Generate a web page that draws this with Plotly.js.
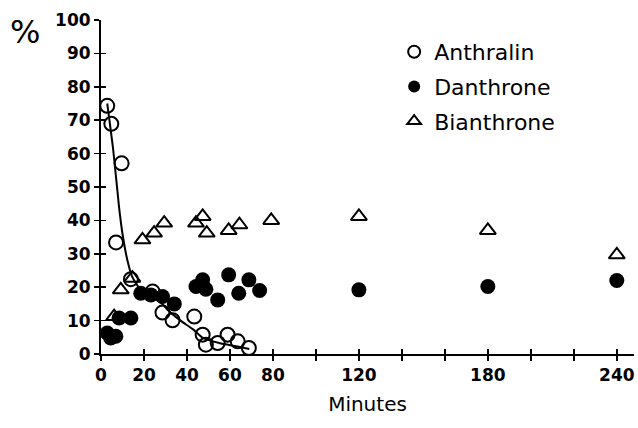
<!DOCTYPE html>
<html>
<head>
<meta charset="utf-8">
<script src="https://cdn.plot.ly/plotly-3.0.1.min.js"></script>
<style>html,body{margin:0;padding:0;background:#fff;}#chart{width:638px;height:428px;}</style>
</head>
<body>
<div id="chart"></div>
<script>
// Anthralin (open circles)
const anthralinX = [2.9, 4.8, 9.6, 7.0, 13.9, 24.0, 28.6, 33.3, 43.4, 47.3, 48.8, 54.3, 58.9, 63.6, 68.8];
const anthralinY = [74.3, 68.9, 57.1, 33.4, 22.4, 18.7, 12.4, 10.1, 11.2, 5.8, 2.8, 3.3, 5.8, 3.8, 1.8];
// Danthrone (filled circles)
const danthroneX = [2.9, 4.5, 6.9, 8.4, 13.9, 18.5, 23.2, 28.6, 34.1, 44.2, 47.3, 48.8, 54.3, 59.4, 64.1, 68.8, 73.8, 120, 180, 240];
const danthroneY = [6.3, 4.8, 5.3, 10.8, 10.8, 18.2, 17.7, 17.2, 15.0, 20.2, 22.2, 19.4, 16.2, 23.7, 18.2, 22.2, 19.0, 19.2, 20.2, 22.0];
// Bianthrone (open triangles)
const bianthroneX = [6.1, 9.2, 14.6, 19.3, 24.7, 29.4, 44.2, 47.3, 49.2, 59.4, 64.4, 79.2, 120, 180, 240];
const bianthroneY = [11.2, 19.2, 22.7, 34.2, 36.2, 39.2, 39.2, 41.2, 36.2, 37.0, 38.7, 40.0, 41.2, 37.0, 29.7];
// Fitted decay curve for anthralin
const fitX = [2.9, 5.7, 8.4, 10, 12.3, 14.6, 18.5, 24, 28, 31.7, 37, 43, 47, 55, 63, 69];
const fitY = [75, 61, 44, 36, 28, 23, 19.2, 17, 15.3, 12.8, 10, 7.3, 5.0, 3.3, 2.3, 1.5];

const xTickVals = [0, 20, 40, 60, 80, 100, 120, 140, 160, 180, 200, 220, 240];
const xTickText = ['0', '20', '40', '60', '80', '', '120', '', '', '180', '', '', '240'];
const yTickVals = [0, 10, 20, 30, 40, 50, 60, 70, 80, 90, 100];

const FONT = 'DejaVu Sans, Liberation Sans, sans-serif';

const traces = [
  {x: fitX, y: fitY, mode: 'lines', line: {color: '#000', width: 2, shape: 'spline', smoothing: 0.6}, showlegend: false, hoverinfo: 'skip'},
  {x: anthralinX, y: anthralinY, mode: 'markers', name: 'Anthralin', legendgroup: 'a',
   marker: {symbol: 'circle-open', size: 14, color: '#000', line: {width: 2, color: '#000'}}},
  {x: danthroneX, y: danthroneY, mode: 'markers', name: 'Danthrone', legendgroup: 'd',
   marker: {symbol: 'circle', size: 15, color: '#000'}},
  {x: bianthroneX, y: bianthroneY, mode: 'markers', name: 'Bianthrone', legendgroup: 'b',
   marker: {symbol: 'triangle-up-open', size: 14, color: '#000', line: {width: 2, color: '#000'}}},
  // invisible helper so the crossing-tick overlay axes are drawn
  {x: danthroneX, y: danthroneY, xaxis: 'x2', yaxis: 'y2', mode: 'markers', marker: {opacity: 0}, showlegend: false, hoverinfo: 'skip'}
];

const axisCommon = {showgrid: false, zeroline: false, showline: true, linecolor: '#000', linewidth: 2,
  ticks: 'outside', ticklen: 5, tickwidth: 1.5, tickcolor: '#000'};

const layout = {
  width: 638, height: 428,
  margin: {l: 101, r: 4, t: 20, b: 74},
  paper_bgcolor: '#fff', plot_bgcolor: '#fff',
  font: {family: FONT, color: '#000', size: 18},
  showlegend: true,
  legend: {x: 0.55, y: 0.967, xanchor: 'left', yanchor: 'top', bgcolor: 'rgba(0,0,0,0)',
    font: {family: FONT, size: 22, color: '#000'}, tracegroupgap: 3, traceorder: 'grouped', itemsizing: 'constant'},
  xaxis: Object.assign({}, axisCommon, {range: [0, 248], tickmode: 'array', tickvals: xTickVals, ticktext: xTickText,
    tickfont: {family: FONT, size: 17, color: '#000', weight: 'bold'},
    title: {text: 'Minutes', font: {family: FONT, size: 20, color: '#000'}, standoff: 13}}),
  yaxis: Object.assign({}, axisCommon, {range: [0, 100], tickmode: 'array', tickvals: yTickVals,
    tickfont: {family: FONT, size: 17, color: '#000', weight: 'bold'}}),
  xaxis2: {overlaying: 'x', matches: 'x', anchor: 'y2', side: 'bottom', showgrid: false, zeroline: false, showline: false,
    ticks: 'inside', ticklen: 5, tickwidth: 1.5, tickcolor: '#000', showticklabels: false, tickmode: 'array', tickvals: xTickVals},
  yaxis2: {overlaying: 'y', matches: 'y', anchor: 'x2', side: 'left', showgrid: false, zeroline: false, showline: false,
    ticks: 'inside', ticklen: 5, tickwidth: 1.5, tickcolor: '#000', showticklabels: false, tickmode: 'array', tickvals: yTickVals},
  annotations: [
    {text: '%', xref: 'paper', yref: 'paper', x: -0.143, y: 1.0, xanchor: 'center', yanchor: 'top', yshift: 9,
     showarrow: false, font: {family: FONT, size: 32, color: '#000'}}
  ]
};

Plotly.newPlot('chart', traces, layout, {displayModeBar: false, staticPlot: true});
</script>
</body>
</html>
